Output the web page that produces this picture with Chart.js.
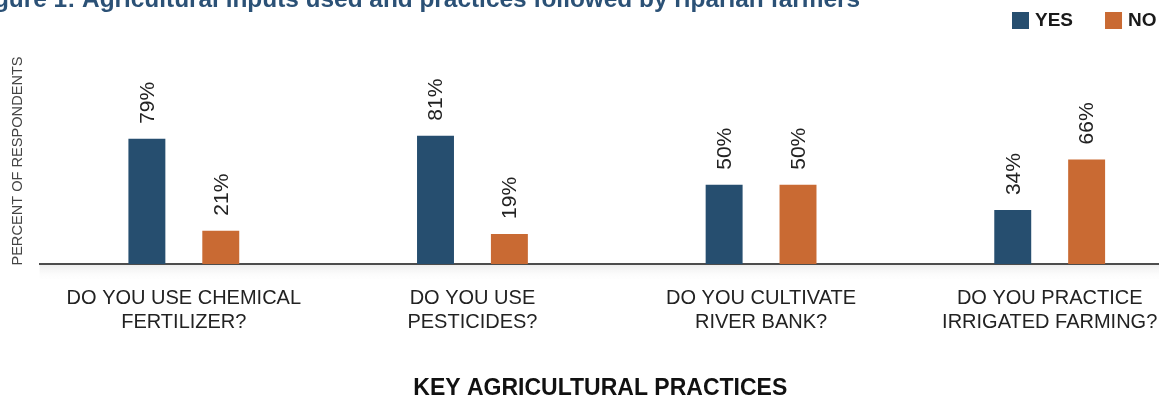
<!DOCTYPE html>
<html>
<head>
<meta charset="utf-8">
<script src="https://cdn.jsdelivr.net/npm/chart.js@4"></script>
<style>
    body { margin: 0; background: #fff; overflow: hidden; }
    #wrap { position: relative; width: 1196px; height: 403px; }
</style>
</head>
<body>
<div id="wrap"><canvas id="grafico"></canvas></div>
<script>
const categorias = [
    ['DO YOU USE CHEMICAL', 'FERTILIZER?'],
    ['DO YOU USE', 'PESTICIDES?'],
    ['DO YOU CULTIVATE', 'RIVER BANK?'],
    ['DO YOU PRACTICE', 'IRRIGATED FARMING?']
];
const valoresSim = [79, 81, 50, 34];
const valoresNao = [21, 19, 50, 66];
const series = ['YES', 'NO'];
const cores = ['#264e6f', '#c96a33'];

const sans = '"Liberation Sans", Arial, sans-serif';
const larguraVisivel = 1159; // the page window cuts the chart on the right

// rotated percentage labels above each bar
const rotuloBarras = {
    id: 'rotuloBarras',
    afterDatasetsDraw(chart) {
        const ctx = chart.ctx;
        ctx.save();
        ctx.font = '21px ' + sans;
        ctx.fillStyle = '#222';
        ctx.textAlign = 'left';
        ctx.textBaseline = 'middle';
        chart.data.datasets.forEach((ds, i) => {
            chart.getDatasetMeta(i).data.forEach((bar, j) => {
                ctx.save();
                ctx.translate(bar.x + 1, bar.y - 15);
                ctx.rotate(-Math.PI / 2);
                ctx.fillText(ds.data[j] + '%', 0, 0);
                ctx.restore();
            });
        });
        ctx.restore();
    }
};

// figure caption (cut at the top), legend, x axis title and soft shadow under the axis
const cabecalho = {
    id: 'cabecalho',
    beforeDraw(chart) {
        const {ctx, chartArea} = chart;
        const g = ctx.createLinearGradient(0, chartArea.bottom, 0, chartArea.bottom + 18);
        g.addColorStop(0, '#ececec');
        g.addColorStop(1, 'rgba(255,255,255,0)');
        ctx.save();
        ctx.fillStyle = g;
        ctx.fillRect(chartArea.left, chartArea.bottom, chart.width - chartArea.left, 18);
        ctx.restore();
    },
    afterDraw(chart) {
        const {ctx, chartArea} = chart;
        ctx.save();
        ctx.font = 'bold 24.4px ' + sans;
        ctx.fillStyle = '#2b5176';
        ctx.textAlign = 'right';
        ctx.textBaseline = 'alphabetic';
        ctx.fillText('Figure 1: Agricultural inputs used and practices followed by riparian farmers', 860, 7);

        ctx.font = 'bold 23px ' + sans;
        ctx.fillStyle = '#111';
        ctx.textAlign = 'center';
        ctx.textBaseline = 'middle';
        ctx.fillText('KEY AGRICULTURAL PRACTICES', (chartArea.left + larguraVisivel) / 2 + 1, chart.height - 14);

        ctx.font = 'bold 19px ' + sans;
        ctx.textAlign = 'left';
        let x = 1012;
        chart.data.datasets.forEach(ds => {
            ctx.fillStyle = ds.backgroundColor;
            ctx.fillRect(x, 12, 17, 17);
            ctx.fillStyle = '#1a1a1a';
            ctx.fillText(ds.label, x + 23, 21);
            x += 23 + ctx.measureText(ds.label).width + 32;
        });
        ctx.restore();
    }
};

new Chart(document.getElementById('grafico'), {
    type: 'bar',
    data: {
        labels: categorias,
        datasets: [
            { label: series[0], data: valoresSim, backgroundColor: cores[0] },
            { label: series[1], data: valoresNao, backgroundColor: cores[1] }
        ]
    },
    options: {
        responsive: true,
        maintainAspectRatio: false,
        animation: false,
        events: [],
        categoryPercentage: 0.512,
        barPercentage: 0.5,
        layout: { padding: { top: 58, left: 9, right: 2, bottom: 47 } },
        plugins: {
            legend: { display: false },
            title: { display: false },
            tooltip: { enabled: false }
        },
        scales: {
            x: {
                grid: { drawOnChartArea: false, drawTicks: false },
                border: { display: true, color: '#4d4d4d', width: 2 },
                ticks: {
                    color: '#222',
                    font: { family: sans, size: 20, lineHeight: 1.2 },
                    padding: 22,
                    maxRotation: 0,
                    autoSkip: false
                }
            },
            y: {
                min: 0,
                max: 130,
                grid: { display: false },
                border: { display: false },
                ticks: { display: false },
                title: {
                    display: true,
                    text: 'PERCENT OF RESPONDENTS',
                    color: '#444',
                    font: { family: sans, size: 14.6 },
                    padding: { top: 0, bottom: 5 }
                }
            }
        }
    },
    plugins: [rotuloBarras, cabecalho]
});
</script>
</body>
</html>
